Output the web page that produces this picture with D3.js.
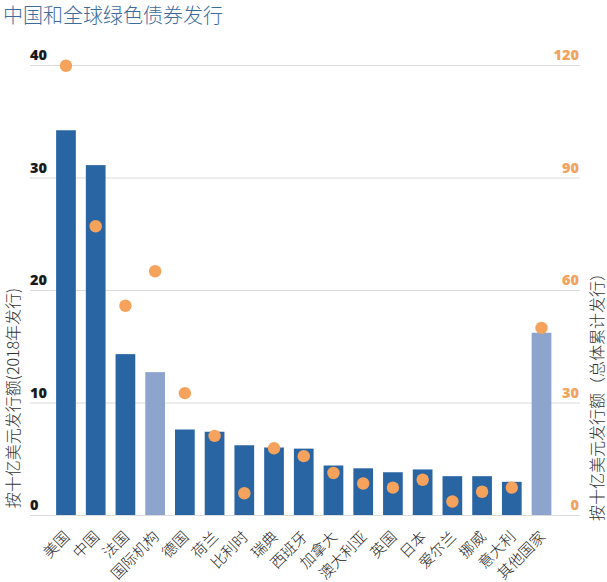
<!DOCTYPE html>
<html><head><meta charset="utf-8">
<script src="https://cdn.jsdelivr.net/npm/d3@7"></script>
<style>
html,body{margin:0;padding:0;background:#fff;}
svg{display:block;}
</style></head>
<body>
<svg id="chart" width="607" height="582"></svg>
<script>
const categories = ["美国","中国","法国","国际机构","德国","荷兰","比利时","瑞典","西班牙","加拿大","澳大利亚","英国","日本","爱尔兰","挪威","意大利","其他国家"];
const issuance2018 = [34.2, 31.1, 14.3, 12.7, 7.6, 7.4, 6.2, 6.0, 5.9, 4.4, 4.15, 3.8, 4.05, 3.45, 3.45, 2.95, 16.2];
const cumulative = [119.8, 77, 55.8, 65, 32.5, 21.1, 5.8, 17.8, 15.7, 11.2, 8.4, 7.3, 9.4, 3.6, 6.2, 7.3, 49.9];
const lightCats = ["国际机构","其他国家"];
const leftTicks = [0, 10, 20, 30, 40];
const rightTicks = [0, 30, 60, 90, 120];
const title = "中国和全球绿色债券发行";
const leftTitle = "按十亿美元发行额(2018年发行)";
const rightTitle = "按十亿美元发行额（总体累计发行）";

const svg = d3.select("#chart");
const cjk = "'Noto Sans CJK SC','Noto Sans',sans-serif";
const num = "'Open Sans','DejaVu Sans',sans-serif";

const x = d3.scaleBand().domain(categories).range([46.1, 561.4]).paddingInner(0.337).paddingOuter(0.337);
const yL = d3.scaleLinear().domain([0, 40]).range([515, 65]);
const yR = d3.scaleLinear().domain([0, 120]).range([515, 65]);

// title
svg.append("text").attr("x", 3).attr("y", 23)
  .attr("font-family", cjk).attr("font-size", 20).attr("font-weight", 300)
  .attr("fill", "#3d6b9c").text(title);

// gridlines
svg.append("g").selectAll("line").data(leftTicks).join("line")
  .attr("x1", 30).attr("x2", 580)
  .attr("y1", d => yL(d) + 0.5).attr("y2", d => yL(d) + 0.5)
  .attr("stroke", "#dcdcdc").attr("stroke-width", 1.2);

// left tick labels
svg.append("g").selectAll("text").data(leftTicks).join("text")
  .attr("x", 30).attr("y", d => yL(d) - 5)
  .attr("font-family", num).attr("font-weight", 800).attr("font-size", 14.5)
  .attr("fill", "#1a1a1a").text(d => d);

// right tick labels
svg.append("g").selectAll("text").data(rightTicks).join("text")
  .attr("x", 579).attr("y", d => yR(d) - 5).attr("text-anchor", "end")
  .attr("font-family", num).attr("font-weight", 800).attr("font-size", 14.5)
  .attr("fill", "#f2a35e").text(d => d);

// bars
svg.append("g").selectAll("rect").data(categories).join("rect")
  .attr("x", d => x(d)).attr("width", x.bandwidth())
  .attr("y", (d, i) => yL(issuance2018[i]))
  .attr("height", (d, i) => yL(0) - yL(issuance2018[i]))
  .attr("fill", d => lightCats.includes(d) ? "#8da4cc" : "#2a65a3");

// dots
svg.append("g").selectAll("circle").data(categories).join("circle")
  .attr("cx", d => x(d) + x.bandwidth() / 2)
  .attr("cy", (d, i) => yR(cumulative[i]))
  .attr("r", 6.2).attr("fill", "#f5a35c");

// category labels
svg.append("g").selectAll("text").data(categories).join("text")
  .attr("transform", d => `translate(${x(d) + x.bandwidth() / 2 + 1},${534}) rotate(-45)`)
  .attr("text-anchor", "end").attr("dy", "0.35em")
  .attr("font-family", cjk).attr("font-size", 15).attr("font-weight", 300).attr("fill", "#222")
  .text(d => d);

// axis titles
svg.append("text").attr("transform", "translate(13,398) rotate(-90)")
  .attr("text-anchor", "middle").attr("dy", "0.35em")
  .attr("font-family", cjk).attr("font-size", 16).attr("font-weight", 300).attr("fill", "#333")
  .text(leftTitle);
svg.append("text").attr("transform", "translate(597,393) rotate(-90)")
  .attr("text-anchor", "middle").attr("dy", "0.35em")
  .attr("font-family", cjk).attr("font-size", 16).attr("font-weight", 300).attr("fill", "#333")
  .text(rightTitle);
</script>
</body></html>
